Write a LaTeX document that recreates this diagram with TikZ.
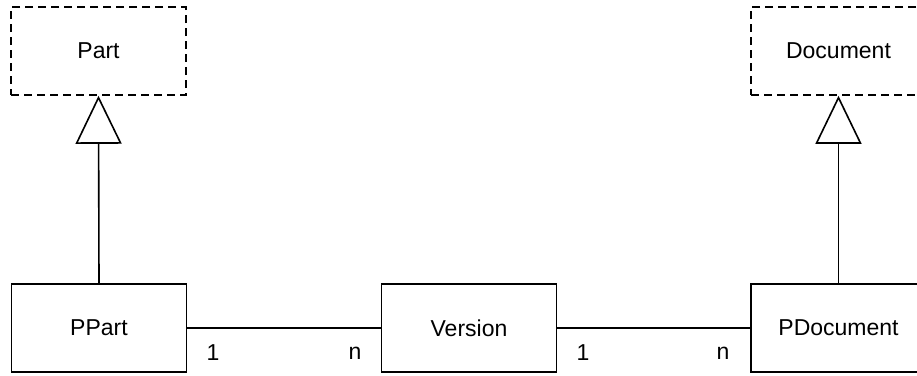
\documentclass[tikz,border=0pt]{standalone}
\usepackage{fontspec}
\setmainfont{Liberation Sans}
\usetikzlibrary{arrows.meta}
\begin{document}
\begin{tikzpicture}[x=1pt,y=-1pt,
  every node/.style={font=\fontsize{23}{27}\selectfont},
  classbox/.style={draw, line width=1.6pt, minimum width=175pt, minimum height=88pt, inner sep=0pt},
  abstractbox/.style={classbox, dashed, dash pattern=on 8pt off 5pt},
  assoc/.style={line width=1.6pt},
  inherit/.style={line width=1.6pt, -{Triangle[open, length=48pt, width=46pt]}},
  mult/.style={inner sep=0pt}]
  \useasboundingbox (0,0) rectangle (917,375);
  \clip (0,0) rectangle (917,375);
  \fill[white] (0,0) rectangle (917,375);

  % abstract parents
  \node[abstractbox] (part) at (98.5,51) {\raisebox{-1pt}{Part}};
  \node[abstractbox] (doc) at (838.5,51) {\raisebox{-1pt}{Document}};

  % concrete classes
  \node[classbox] (ppart) at (99,328) {\raisebox{-2pt}{PPart}};
  \node[classbox] (version) at (469,328) {\raisebox{-2pt}{Version}};
  \node[classbox] (pdoc) at (838.5,328) {\raisebox{-2pt}{PDocument}};

  % generalization
  \draw[inherit] (ppart.north) -- (part.south);
  \draw[inherit] (pdoc.north) -- (doc.south);

  % associations
  \draw[assoc] (ppart.east) -- (version.west);
  \draw[assoc] (version.east) -- (pdoc.west);

  % multiplicities
  \node[mult] (m1) at (213,353) {1};
  \node[mult] (m2) at (355,353) {n};
  \node[mult] (m3) at (583,353) {1};
  \node[mult] (m4) at (723,353) {n};
\end{tikzpicture}
\end{document}
